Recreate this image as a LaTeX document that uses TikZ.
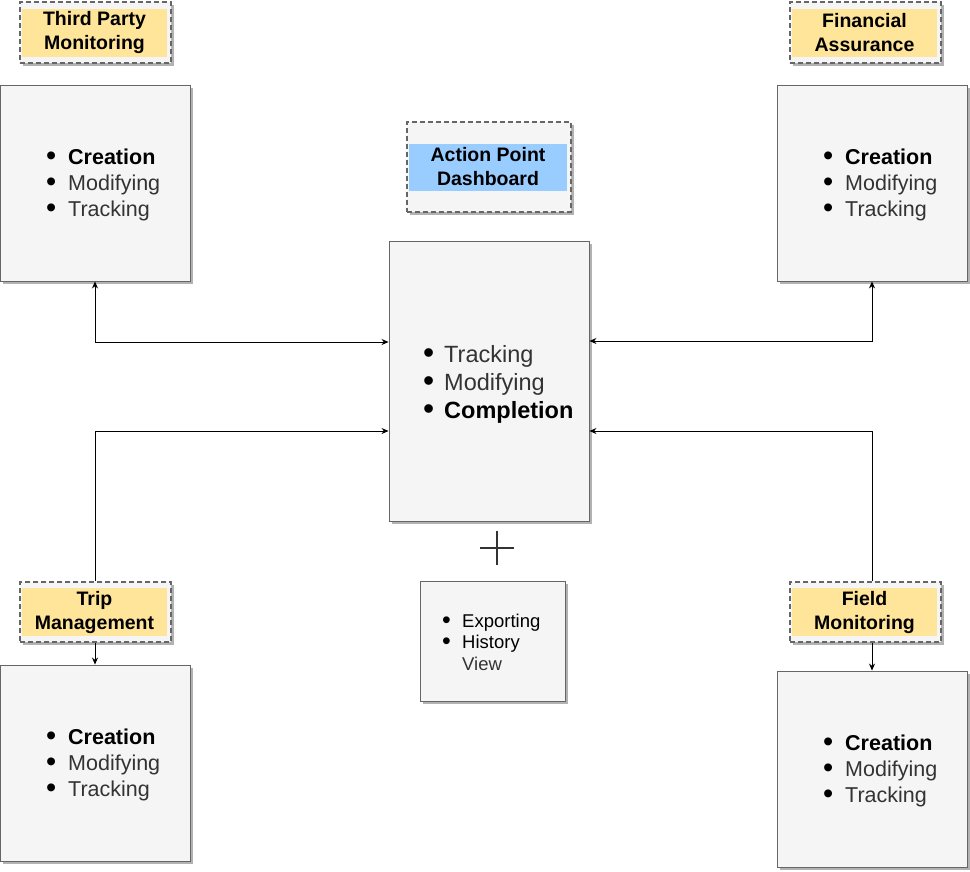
\documentclass[tikz,border=0pt]{standalone}
\usepackage{fontspec}
\setmainfont{Liberation Sans}
\usetikzlibrary{shadows,arrows.meta}
\definecolor{boxfill}{HTML}{F5F5F5}
\definecolor{boxline}{HTML}{666666}
\definecolor{lblyellow}{HTML}{FFE599}
\definecolor{lblblue}{HTML}{99CCFF}
\definecolor{txtgray}{HTML}{333333}
\newcommand{\bi}[2][22pt]{\makebox[#1][l]{\textcolor{black}{\raisebox{-0.1ex}{\scalebox{1.35}{\textbullet}}}}#2}
\begin{document}
\begin{tikzpicture}[x=1pt,y=-1pt,
  shadowed/.style={drop shadow={shadow xshift=2.5pt,shadow yshift=-2.5pt,fill=black!30,opacity=1}},
  bigbox/.style={draw=boxline,fill=boxfill,line width=0.9pt,shadowed,inner sep=0pt,minimum width=190pt,minimum height=196pt},
  dashbox/.style={draw=boxline,fill=boxfill,dashed,dash pattern=on 5pt off 3pt,line width=1.3pt,shadowed,inner sep=0pt,minimum width=151pt,minimum height=61pt},
  yellowlbl/.style={fill=lblyellow,inner sep=0pt,minimum width=145pt,minimum height=48pt,align=center,font=\fontsize{19.5}{24}\selectfont\bfseries},
  listtxt/.style={anchor=west,align=left,inner sep=0pt,text=txtgray,font=\fontsize{21.5}{26}\selectfont},
  conn/.style={line width=0.8pt,black},
  tip/.style={-{Stealth[length=7pt,width=6pt]}},
  tips/.style={{Stealth[length=7pt,width=6pt]}-{Stealth[length=7pt,width=6pt]}}
]
\useasboundingbox (0,0) rectangle (970,871);

% Third Party Monitoring
\node[dashbox] (tpmL) at (95.5,32.5) {};
\node[yellowlbl] (tpmLt) at (94.5,32.5) {Third Party\\Monitoring};
\node[bigbox] (tpmB) at (95,183) {};
\node[listtxt] (tpmT) at (46,185) {\bi{\textbf{\textcolor{black}{Creation}}}\\\bi{Modifying}\\\bi{Tracking}};

% Financial Assurance
\node[dashbox] (faL) at (865.5,32.5) {};
\node[yellowlbl] (faLt) at (864.5,32.5) {Financial\\Assurance};
\node[bigbox] (faB) at (872,183) {};
\node[listtxt] (faT) at (823,185) {\bi{\textbf{\textcolor{black}{Creation}}}\\\bi{Modifying}\\\bi{Tracking}};

% Action Point Dashboard
\node[dashbox,minimum width=164pt,minimum height=90pt] (apdL) at (489,167) {};
\node[yellowlbl,fill=lblblue,minimum width=158pt,minimum height=47pt] (apdLt) at (488,167) {Action Point\\Dashboard};

% Center box
\node[bigbox,minimum width=200pt,minimum height=280pt] (ctr) at (489,381) {};
\node[listtxt,font=\fontsize{23.5}{28}\selectfont] (ctrT) at (423,384) {\bi[21pt]{Tracking}\\\bi[21pt]{Modifying}\\\bi[21pt]{\textbf{\textcolor{black}{Completion}}}};

% Plus
\node[minimum size=34pt,inner sep=0pt] (plus) at (497,548) {};
\draw[line width=1.3pt,black!80] (plus.west) -- (plus.east) (plus.north) -- (plus.south);

% Export box
\node[bigbox,minimum width=145pt,minimum height=120pt] (exp) at (492.5,641) {};
\node[listtxt,text=black,font=\fontsize{18.5}{21.5}\selectfont] (expT) at (442,642) {\bi[20pt]{Exporting}\\\bi[20pt]{History}\\\hspace*{20pt}\textcolor{txtgray}{View}};

% Trip Management
\node[dashbox,minimum height=60pt] (tmL) at (95.5,612) {};
\node[yellowlbl] (tmLt) at (94.5,612) {Trip\\Management};
\node[bigbox] (tmB) at (95,763) {};
\node[listtxt] (tmT) at (46,765) {\bi{\textbf{\textcolor{black}{Creation}}}\\\bi{Modifying}\\\bi{Tracking}};

% Field Monitoring
\node[dashbox,minimum height=60pt] (fmL) at (865.5,612) {};
\node[yellowlbl] (fmLt) at (864.5,612) {Field\\Monitoring};
\node[bigbox] (fmB) at (872,769) {};
\node[listtxt] (fmT) at (823,771) {\bi{\textbf{\textcolor{black}{Creation}}}\\\bi{Modifying}\\\bi{Tracking}};

% Connectors
\coordinate (yA) at (0,342);
\coordinate (yB) at (0,341);
\coordinate (yC) at (0,431);
\draw[conn,tips] (tpmB.south) |- (ctr.west |- yA);
\draw[conn,tips] (faB.south) |- (ctr.east |- yB);
\draw[conn,tip] (tmL.north -| tmB.south) |- (ctr.west |- yC);
\draw[conn,tip] (fmL.north -| fmB.north) |- (ctr.east |- yC);
\draw[conn,tip] (tmL.south -| tmB.north) -- (tmB.north);
\draw[conn,tip] (fmL.south -| fmB.north) -- (fmB.north);
\end{tikzpicture}
\end{document}
